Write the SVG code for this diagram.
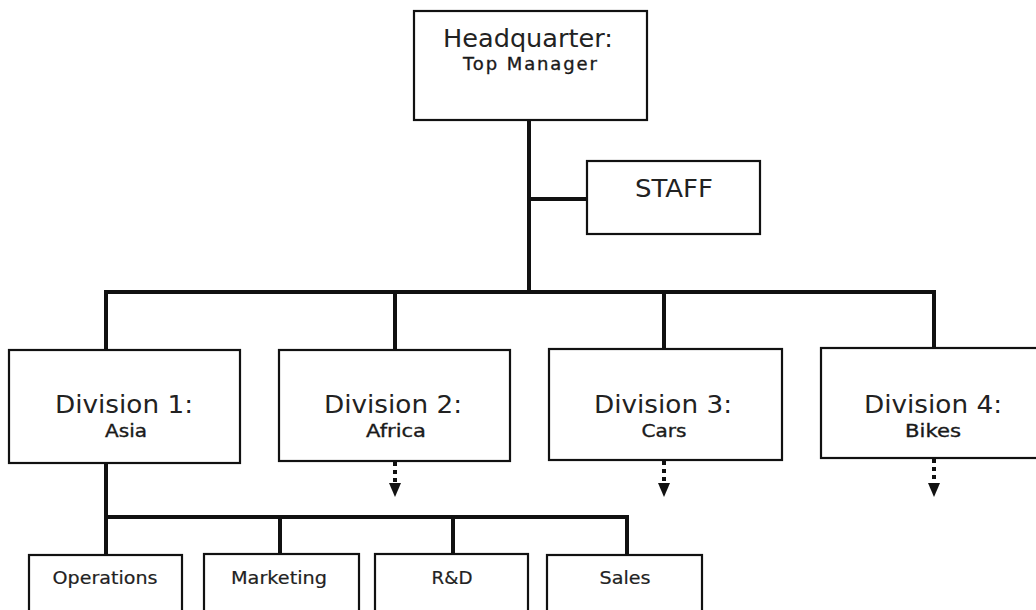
<svg xmlns="http://www.w3.org/2000/svg" width="1036" height="610" viewBox="0 0 1036 610">
  <defs>
    <style>
      .box { fill: #ffffff; stroke: #111111; stroke-width: 2.2; }
      .link { fill: none; stroke: #111111; stroke-width: 4; stroke-linejoin: miter; }
      .dots { fill: none; stroke: #111111; stroke-width: 4; stroke-dasharray: 4 4; }
      .big { font-family: "DejaVu Sans", Verdana, sans-serif; font-size: 25px; fill: #222222; text-anchor: middle; }
      .small { font-family: "DejaVu Sans", Tahoma, sans-serif; font-size: 18px; fill: #1a1a1a; stroke: #1a1a1a; stroke-width: 0.35; text-anchor: middle; }
      .sub { font-family: "DejaVu Sans", Tahoma, sans-serif; font-size: 18px; fill: #222222; stroke: #222222; stroke-width: 0.2; text-anchor: middle; }
    </style>
  </defs>

  <!-- connectors -->
  <g id="connectors">
    <!-- headquarter trunk and division bus -->
    <path class="link" d="M529,120 V292"/>
    <path class="link" d="M529,199 H587"/>
    <path class="link" d="M106,350 V292 H934 V348"/>
    <path class="link" d="M395,292 V350"/>
    <path class="link" d="M664,292 V349"/>
    <!-- division 1 departments -->
    <path class="link" d="M106,463 V554"/>
    <path class="link" d="M106,517 H627 V554"/>
    <path class="link" d="M280,517 V554"/>
    <path class="link" d="M453,517 V554"/>
    <!-- further levels, not expanded -->
    <path class="dots" d="M395,462 V483"/>
    <path d="M389,483 H401 L395,497 Z" fill="#111111"/>
    <path class="dots" d="M664,461 V483"/>
    <path d="M658,483 H670 L664,497 Z" fill="#111111"/>
    <path class="dots" d="M934,459 V483"/>
    <path d="M928,483 H940 L934,497 Z" fill="#111111"/>
  </g>

  <g id="headquarter">
    <rect class="box" x="414" y="11" width="233" height="109"/>
    <text class="big" x="528" y="47" textLength="170" lengthAdjust="spacingAndGlyphs">Headquarter:</text>
    <text class="small" x="530" y="70" textLength="134" lengthAdjust="spacing">Top Manager</text>
  </g>

  <g id="staff">
    <rect class="box" x="587" y="161" width="173" height="73"/>
    <text class="big" x="674" y="197" textLength="78" lengthAdjust="spacingAndGlyphs">STAFF</text>
  </g>

  <g id="division-1">
    <rect class="box" x="9" y="350" width="231" height="113"/>
    <text class="big" x="124" y="413" textLength="138" lengthAdjust="spacingAndGlyphs">Division 1:</text>
    <text class="small" x="126" y="437" textLength="42" lengthAdjust="spacingAndGlyphs">Asia</text>
  </g>

  <g id="division-2">
    <rect class="box" x="279" y="350" width="231" height="111"/>
    <text class="big" x="393" y="413" textLength="138" lengthAdjust="spacingAndGlyphs">Division 2:</text>
    <text class="small" x="396" y="437" textLength="60" lengthAdjust="spacingAndGlyphs">Africa</text>
  </g>

  <g id="division-3">
    <rect class="box" x="549" y="349" width="233" height="111"/>
    <text class="big" x="663" y="413" textLength="138" lengthAdjust="spacingAndGlyphs">Division 3:</text>
    <text class="small" x="664" y="437" textLength="45" lengthAdjust="spacingAndGlyphs">Cars</text>
  </g>

  <g id="division-4">
    <rect class="box" x="821" y="348" width="230" height="110"/>
    <text class="big" x="933" y="413" textLength="138" lengthAdjust="spacingAndGlyphs">Division 4:</text>
    <text class="small" x="933" y="437" textLength="56" lengthAdjust="spacingAndGlyphs">Bikes</text>
  </g>

  <g id="operations">
    <rect class="box" x="29" y="555" width="153" height="70"/>
    <text class="sub" x="105" y="584" textLength="105" lengthAdjust="spacingAndGlyphs">Operations</text>
  </g>

  <g id="marketing">
    <rect class="box" x="204" y="554" width="155" height="70"/>
    <text class="sub" x="279" y="584" textLength="96" lengthAdjust="spacingAndGlyphs">Marketing</text>
  </g>

  <g id="rnd">
    <rect class="box" x="375" y="554" width="153" height="70"/>
    <text class="sub" x="452" y="584" textLength="41" lengthAdjust="spacingAndGlyphs">R&amp;D</text>
  </g>

  <g id="sales">
    <rect class="box" x="547" y="555" width="155" height="70"/>
    <text class="sub" x="625" y="584" textLength="51" lengthAdjust="spacingAndGlyphs">Sales</text>
  </g>
</svg>
